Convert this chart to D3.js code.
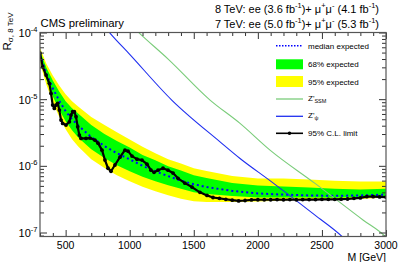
<!DOCTYPE html>
<html>
<head>
<meta charset="utf-8">
<script src="https://cdn.jsdelivr.net/npm/d3@7"></script>
<style>
  body { margin: 0; background: #fff; }
  svg text { font-family: "Liberation Sans", Arial, sans-serif; }
</style>
</head>
<body>
<div class="root"></div>
<script>
// Expected limit: median and the 68% / 95% bands
const expMass   = [300, 350, 400, 450, 500, 550, 600, 700, 800, 900, 1000, 1100, 1200, 1300, 1400, 1500, 1600, 1800, 2000, 2200, 2400, 2600, 2800, 3000];
const expMedian = [4.6e-5, 2.4e-5, 1.45e-5, 9.5e-6, 6.6e-6, 5.0e-6, 4.0e-6, 2.7e-6, 2.0e-6, 1.55e-6, 1.25e-6, 1.0e-6, 8.3e-7, 7.0e-7, 6.0e-7, 5.3e-7, 4.8e-7, 4.2e-7, 3.85e-7, 3.7e-7, 3.6e-7, 3.55e-7, 3.6e-7, 3.7e-7];
const exp68Lo   = [4.01e-5, 1.95e-5, 1.10e-5, 6.96e-6, 4.67e-6, 3.42e-6, 2.64e-6, 1.78e-6, 1.32e-6, 1.02e-6, 8.26e-7, 6.84e-7, 5.87e-7, 5.13e-7, 4.55e-7, 4.02e-7, 3.77e-7, 3.53e-7, 3.35e-7, 3.34e-7, 3.36e-7, 3.31e-7, 3.42e-7, 3.52e-7];
const exp68Hi   = [5.28e-5, 2.95e-5, 1.91e-5, 1.30e-5, 9.33e-6, 7.31e-6, 6.06e-6, 4.09e-6, 3.03e-6, 2.35e-6, 1.89e-6, 1.46e-6, 1.21e-6, 9.89e-7, 8.48e-7, 7.23e-7, 6.55e-7, 5.54e-7, 5.07e-7, 4.88e-7, 4.74e-7, 4.52e-7, 4.43e-7, 4.55e-7];
const exp95Lo   = [3.49e-5, 1.64e-5, 8.94e-6, 5.47e-6, 3.54e-6, 2.51e-6, 1.94e-6, 1.26e-6, 9.35e-7, 7.25e-7, 5.85e-7, 4.84e-7, 4.16e-7, 3.63e-7, 3.22e-7, 2.95e-7, 2.86e-7, 2.87e-7, 2.92e-7, 3.01e-7, 3.14e-7, 3.09e-7, 3.19e-7, 3.34e-7];
const exp95Hi   = [5.86e-5, 3.39e-5, 2.27e-5, 1.60e-5, 1.19e-5, 9.31e-6, 7.71e-6, 5.39e-6, 4.13e-6, 3.20e-6, 2.49e-6, 1.93e-6, 1.55e-6, 1.26e-6, 1.08e-6, 9.21e-7, 8.34e-7, 7.05e-7, 6.46e-7, 6.43e-7, 6.26e-7, 5.96e-7, 5.84e-7, 5.80e-7];

// Observed 95% C.L. limit
const obsMass  = [300, 321, 347, 373, 386, 399, 412, 425, 438, 451, 464, 477, 503, 529, 542, 555, 568, 581, 594, 607, 620, 659, 690, 729, 753, 784, 807, 831, 854, 885, 924, 963, 987, 1018, 1057, 1096, 1135, 1166, 1190, 1221, 1260, 1299, 1338, 1377, 1431, 1486, 1548, 1603, 1650, 1700, 1750, 1800, 1850, 1900, 1950, 2000, 2050, 2100, 2150, 2200, 2250, 2300, 2350, 2400, 2450, 2500, 2550, 2600, 2650, 2700, 2750, 2800, 2850, 2900, 2950, 3000];
const obsLimit = [4.9e-5, 3.06e-5, 2.3e-5, 1.73e-5, 1.22e-5, 8.15e-6, 7.27e-6, 8.15e-6, 8.65e-6, 6.86e-6, 4.85e-6, 4.33e-6, 4.09e-6, 4.58e-6, 5.77e-6, 6.47e-6, 6.47e-6, 5.45e-6, 3.85e-6, 2.89e-6, 2.58e-6, 2.58e-6, 2.61e-6, 2.43e-6, 2.19e-6, 1.72e-6, 1.22e-6, 9.2e-7, 8.3e-7, 1.03e-6, 1.35e-6, 1.72e-6, 1.66e-6, 1.4e-6, 1.26e-6, 1.22e-6, 1.06e-6, 8.6e-7, 8.0e-7, 8.6e-7, 9.2e-7, 8.6e-7, 7.8e-7, 6.5e-7, 5.5e-7, 4.8e-7, 4.0e-7, 3.6e-7, 3.35e-7, 3.25e-7, 3.15e-7, 3.05e-7, 2.98e-7, 3.02e-7, 3.08e-7, 3.1e-7, 3.1e-7, 3.1e-7, 3.12e-7, 3.1e-7, 3.12e-7, 3.1e-7, 3.12e-7, 3.12e-7, 3.12e-7, 3.14e-7, 3.14e-7, 3.14e-7, 3.16e-7, 3.18e-7, 3.25e-7, 3.3e-7, 3.45e-7, 3.45e-7, 3.42e-7, 3.4e-7];

// Theory curves
const ssmMass = [1000, 1075, 1300, 1627, 1861, 2095, 2446, 2823, 2992, 3000];
const ssmXsec = [1.35e-4, 9.8e-5, 4.0e-5, 9.7e-6, 4.33e-6, 1.72e-6, 5.45e-7, 1.53e-7, 8.8e-8, 8.5e-8];
const psiMass = [800, 846, 1000, 1328, 1705, 1861, 2100, 2446, 2654, 2700];
const psiXsec = [1.25e-4, 9.8e-5, 4.7e-5, 9.7e-6, 2.29e-6, 1.29e-6, 5.9e-7, 1.82e-7, 8.8e-8, 7.2e-8];

// Axis ticks
const xTicks = [500, 1000, 1500, 2000, 2500, 3000];
const yTickExps = [-4, -5, -6, -7];

// Set the dimensions of the canvas / graph
var margin = { top: 32.5, right: 21, bottom: 25.5, left: 40 },
    width = 407 - margin.left - margin.right,
    height = 262 - margin.top - margin.bottom;

const xScale = d3.scaleLinear().domain([300, 3000]).range([0, width]);
const yScale = d3.scaleLog().domain([Math.pow(10, -7.06), 1e-4]).range([height, 0]);

var svg = d3.select(".root").append("svg")
    .attr("width", 407)
    .attr("height", 262);

var g = svg.append("g")
    .attr("transform", "translate(" + margin.left + "," + margin.top + ")");

g.append("clipPath").attr("id", "plotclip")
    .append("rect").attr("width", width).attr("height", height);

var plot = g.append("g").attr("clip-path", "url(#plotclip)");

// Bands
const expRows = expMass.map((m, i) => ({ m: m, med: expMedian[i], lo68: exp68Lo[i], hi68: exp68Hi[i], lo95: exp95Lo[i], hi95: exp95Hi[i] }));

plot.append("path").datum(expRows)
    .attr("fill", "#ffff00")
    .attr("d", d3.area().x(d => xScale(d.m)).y0(d => yScale(d.lo95)).y1(d => yScale(d.hi95)));

plot.append("path").datum(expRows)
    .attr("fill", "#00ff00")
    .attr("d", d3.area().x(d => xScale(d.m)).y0(d => yScale(d.lo68)).y1(d => yScale(d.hi68)));

// Median expected
plot.append("path").datum(expRows)
    .attr("fill", "none")
    .attr("stroke", "#0000ff")
    .attr("stroke-width", 2)
    .attr("stroke-dasharray", "2,3")
    .attr("d", d3.line().x(d => xScale(d.m)).y(d => yScale(d.med)));

// Theory lines
const theoryLine = d3.line().x(d => xScale(d[0])).y(d => yScale(d[1])).curve(d3.curveMonotoneX);

plot.append("path").datum(ssmMass.map((m, i) => [m, ssmXsec[i]]))
    .attr("fill", "none")
    .attr("stroke", "#7acc7a")
    .attr("stroke-width", 1.1)
    .attr("d", theoryLine);

plot.append("path").datum(psiMass.map((m, i) => [m, psiXsec[i]]))
    .attr("fill", "none")
    .attr("stroke", "#1f2ff0")
    .attr("stroke-width", 1.1)
    .attr("d", theoryLine);

// Observed limit
const obsRows = obsMass.map((m, i) => [m, obsLimit[i]]);

plot.append("path").datum(obsRows)
    .attr("fill", "none")
    .attr("stroke", "#000")
    .attr("stroke-width", 2.2)
    .attr("stroke-linejoin", "round")
    .attr("d", d3.line().x(d => xScale(d[0])).y(d => yScale(d[1])));

plot.selectAll(".obsdot").data(obsRows).enter().append("circle")
    .attr("cx", d => xScale(d[0]))
    .attr("cy", d => yScale(d[1]))
    .attr("r", 1.9)
    .attr("fill", "#000");

// Axes (ROOT style: ticks inside on all four sides)
const xMinor = d3.range(300, 3001, 100).filter(v => v % 500 !== 0);
const yMajor = yTickExps.map(e => Math.pow(10, e));
const yMinor = [];
[-8, -7, -6, -5].forEach(e => { for (let k = 2; k <= 9; k++) yMinor.push(k * Math.pow(10, e)); });
const yMinorIn = yMinor.filter(v => v >= yScale.domain()[0] && v <= 1e-4);

function tidy(sel) {
    sel.select(".domain").remove();
    sel.selectAll("line").attr("stroke", "#333");
}

g.append("g").attr("transform", "translate(0," + height + ")")
    .call(d3.axisBottom(xScale).tickValues(xTicks).tickSize(-6.5).tickFormat("")).call(tidy);
g.append("g").attr("transform", "translate(0," + height + ")")
    .call(d3.axisBottom(xScale).tickValues(xMinor).tickSize(-3.5).tickFormat("")).call(tidy);
g.append("g")
    .call(d3.axisTop(xScale).tickValues(xTicks).tickSize(-6.5).tickFormat("")).call(tidy);
g.append("g")
    .call(d3.axisTop(xScale).tickValues(xMinor).tickSize(-3.5).tickFormat("")).call(tidy);

g.append("g")
    .call(d3.axisLeft(yScale).tickValues(yMajor).tickSize(-7).tickFormat("")).call(tidy);
g.append("g")
    .call(d3.axisLeft(yScale).tickValues(yMinorIn).tickSize(-4).tickFormat("")).call(tidy);
g.append("g").attr("transform", "translate(" + width + ",0)")
    .call(d3.axisRight(yScale).tickValues(yMajor).tickSize(-7).tickFormat("")).call(tidy);
g.append("g").attr("transform", "translate(" + width + ",0)")
    .call(d3.axisRight(yScale).tickValues(yMinorIn).tickSize(-4).tickFormat("")).call(tidy);

// Frame
g.append("rect")
    .attr("width", width).attr("height", height)
    .attr("fill", "none")
    .attr("stroke", "#555")
    .attr("stroke-width", 1.2);

// X tick labels
g.selectAll(".xlab").data(xTicks).enter().append("text")
    .attr("x", d => xScale(d))
    .attr("y", height + 12.5)
    .attr("text-anchor", "middle")
    .attr("font-size", 10.5)
    .text(d => d);

// Y tick labels 10^n
var ylab = g.selectAll(".ylab").data(yTickExps).enter().append("text")
    .attr("x", -2.5)
    .attr("y", d => yScale(Math.pow(10, d)) + 4.5)
    .attr("text-anchor", "end")
    .attr("font-size", 11);
ylab.append("tspan").text("10");
ylab.append("tspan").attr("font-size", 7.5).attr("dy", -5).text(d => d);

// Axis titles
g.append("text")
    .attr("x", width)
    .attr("y", height + 24)
    .attr("text-anchor", "end")
    .attr("font-size", 10.5)
    .text("M [GeV]");

var ytitle = svg.append("text")
    .attr("transform", "translate(10.5,50.5) rotate(-90)")
    .attr("text-anchor", "start")
    .attr("font-size", 11.5);
ytitle.append("tspan").text("R");
ytitle.append("tspan").attr("font-size", 8).attr("dy", 2.5).text("σ, 8 TeV");

// Header texts
svg.append("text")
    .attr("x", 40.5).attr("y", 26.5)
    .attr("font-size", 11.3)
    .text("CMS preliminary");

function lumiLine(y, lead, ee, mm) {
    var t = svg.append("text")
        .attr("x", 379).attr("y", y)
        .attr("text-anchor", "end")
        .attr("font-size", 11);
    t.append("tspan").text(lead + ": ee (" + ee + " fb");
    t.append("tspan").attr("font-size", 7.5).attr("dy", -4.5).text("-1");
    t.append("tspan").attr("dy", 4.5).text(")+ μ");
    t.append("tspan").attr("font-size", 7.5).attr("dy", -4.5).text("+");
    t.append("tspan").attr("dy", 4.5).text("μ");
    t.append("tspan").attr("font-size", 7.5).attr("dy", -4.5).text("-");
    t.append("tspan").attr("dy", 4.5).text(" (" + mm + " fb");
    t.append("tspan").attr("font-size", 7.5).attr("dy", -4.5).text("-1");
    t.append("tspan").attr("dy", 4.5).text(")");
}
lumiLine(12.5, "8 TeV", "3.6", "4.1");
lumiLine(27.5, "7 TeV", "5.0", "5.3");

// Legend
var leg = svg.append("g").attr("font-size", 8);
var lx0 = 276, lx1 = 303, ltx = 308;
const legendRows = [45.7, 64.3, 81.5, 99, 116.3, 133.3];

leg.append("line").attr("x1", lx0).attr("x2", lx1).attr("y1", legendRows[0]).attr("y2", legendRows[0])
    .attr("stroke", "#0000ff").attr("stroke-width", 1.6).attr("stroke-dasharray", "1.5,1.5");
leg.append("text").attr("x", ltx).attr("y", legendRows[0] + 3).text("median expected");

leg.append("rect").attr("x", lx0).attr("y", legendRows[1] - 5).attr("width", lx1 - lx0).attr("height", 10)
    .attr("fill", "#00ff00");
leg.append("text").attr("x", ltx).attr("y", legendRows[1] + 3).text("68% expected");

leg.append("rect").attr("x", lx0).attr("y", legendRows[2] - 5.5).attr("width", lx1 - lx0).attr("height", 11)
    .attr("fill", "#ffff00");
leg.append("text").attr("x", ltx).attr("y", legendRows[2] + 3).text("95% expected");

leg.append("line").attr("x1", lx0).attr("x2", lx1).attr("y1", legendRows[3]).attr("y2", legendRows[3])
    .attr("stroke", "#7acc7a").attr("stroke-width", 1.3);
var tS = leg.append("text").attr("x", ltx).attr("y", legendRows[3] + 2);
tS.append("tspan").text("Z'");
tS.append("tspan").attr("font-size", 5.5).attr("dy", 2).text("SSM");

leg.append("line").attr("x1", lx0).attr("x2", lx1).attr("y1", legendRows[4]).attr("y2", legendRows[4])
    .attr("stroke", "#1f2ff0").attr("stroke-width", 1.3);
var tP = leg.append("text").attr("x", ltx).attr("y", legendRows[4] + 2);
tP.append("tspan").text("Z'");
tP.append("tspan").attr("font-size", 5.5).attr("dy", 2).text("ψ");

leg.append("line").attr("x1", lx0).attr("x2", lx1).attr("y1", legendRows[5]).attr("y2", legendRows[5])
    .attr("stroke", "#000").attr("stroke-width", 1.6);
leg.append("circle").attr("cx", (lx0 + lx1) / 2).attr("cy", legendRows[5]).attr("r", 1.8).attr("fill", "#000");
leg.append("text").attr("x", ltx).attr("y", legendRows[5] + 3).text("95% C.L. limit");
</script>
</body>
</html>
